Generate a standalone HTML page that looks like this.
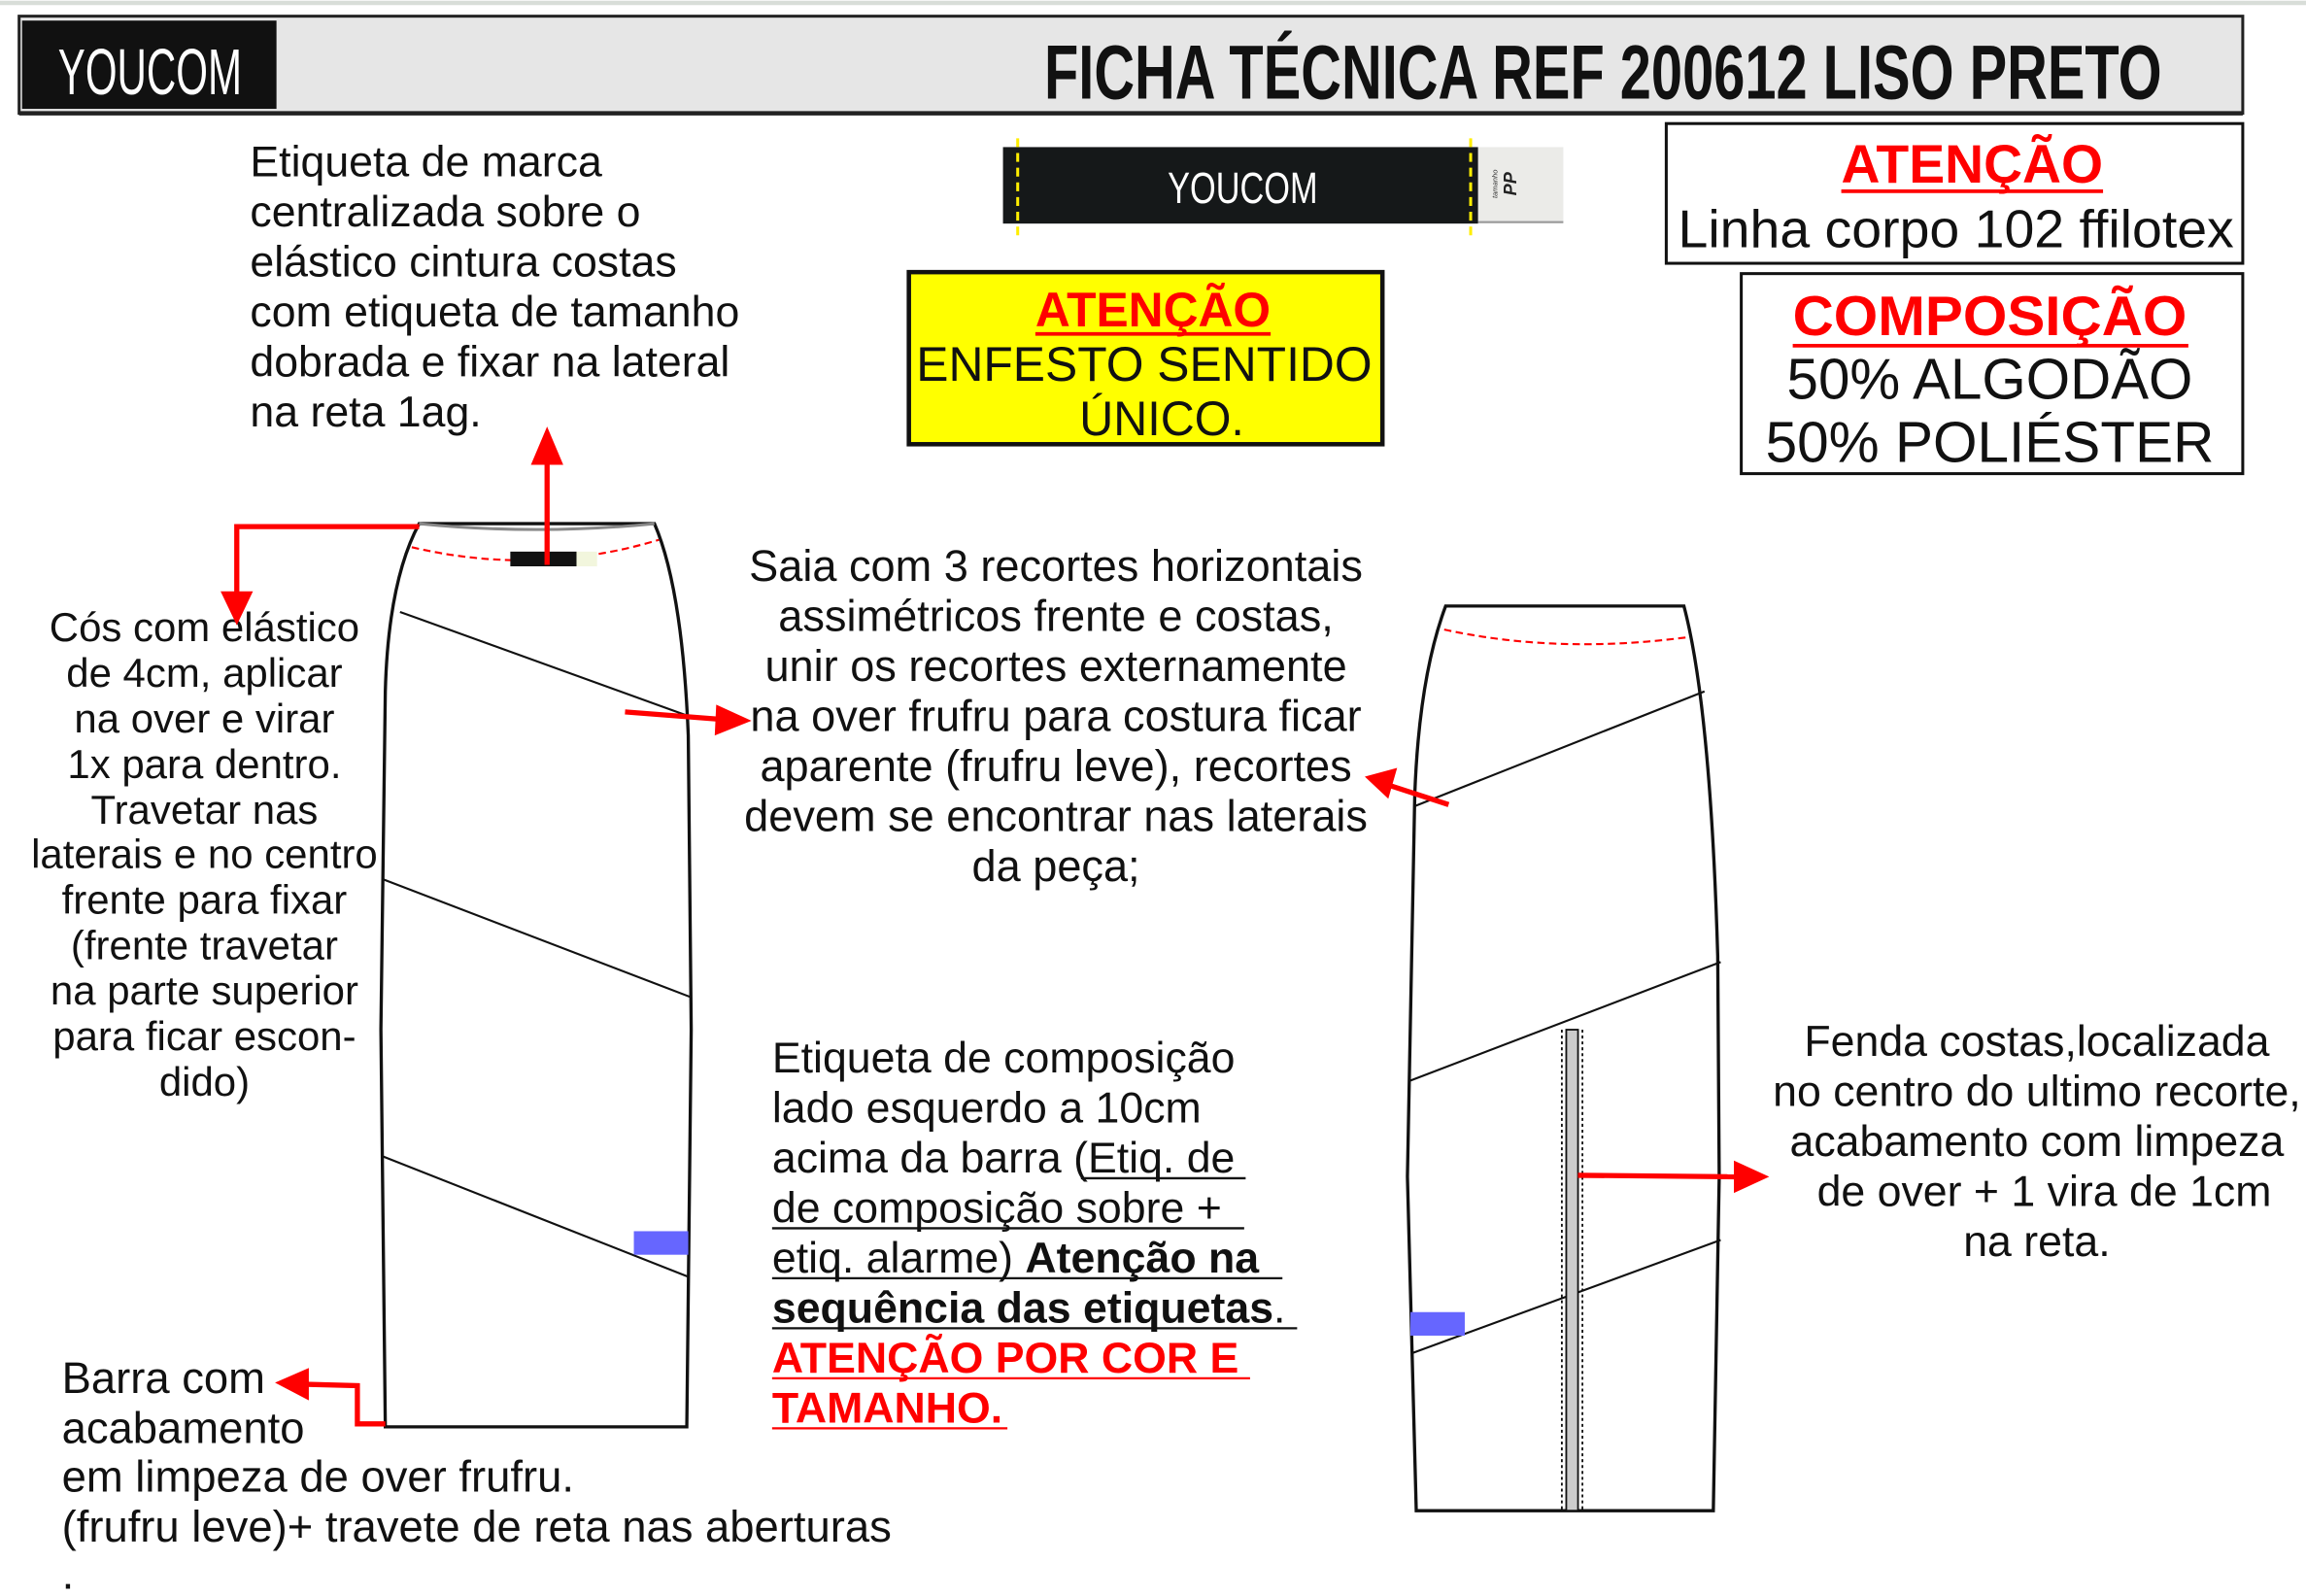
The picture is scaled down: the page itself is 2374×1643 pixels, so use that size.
<!DOCTYPE html>
<html><head><meta charset="utf-8"><style>
html,body{margin:0;padding:0;background:#fff;}
svg{display:block;}
text{font-family:"Liberation Sans",Arial,sans-serif;}
</style></head><body>
<svg width="2374" height="1643" viewBox="0 0 1568 1085" preserveAspectRatio="none" xmlns="http://www.w3.org/2000/svg">
<rect x="0" y="0" width="1568" height="1085" fill="#fff"/>
<line x1="0" y1="2" x2="1568" y2="2" stroke="#d8ddd8" stroke-width="3"/>
<!-- header -->
<rect x="13" y="11" width="1512" height="66" fill="#e6e6e6" stroke="#222" stroke-width="2"/>
<line x1="13" y1="77" x2="1525" y2="77" stroke="#222" stroke-width="3"/>
<rect x="15" y="14" width="173" height="60" fill="#111"/>
<text x="102" y="64" fill="#fff" font-size="44" text-anchor="middle" textLength="125" lengthAdjust="spacingAndGlyphs">YOUCOM</text>
<text x="710" y="67" fill="#111" font-size="52" font-weight="bold" textLength="760" lengthAdjust="spacingAndGlyphs">FICHA TÉCNICA REF 200612 LISO PRETO</text>
<!-- label image -->
<rect x="1005" y="100" width="58" height="50" fill="#ebebe8"/>
<line x1="1005" y1="151" x2="1063" y2="151" stroke="#999" stroke-width="1.5"/>
<rect x="682" y="100" width="323" height="52" fill="#151819"/>
<line x1="692" y1="94" x2="692" y2="160" stroke="#ffee00" stroke-width="2" stroke-dasharray="6,4"/>
<line x1="1000" y1="94" x2="1000" y2="160" stroke="#ffee00" stroke-width="2" stroke-dasharray="6,4"/>
<text x="845" y="138" fill="#fff" font-size="30" text-anchor="middle" textLength="102" lengthAdjust="spacingAndGlyphs">YOUCOM</text>
<text transform="translate(1031,125) rotate(-90)" font-size="12" font-weight="bold" font-style="italic" text-anchor="middle" fill="#222">PP</text>
<text transform="translate(1018,125) rotate(-90)" font-size="5" font-style="italic" text-anchor="middle" fill="#333">tamanho</text>
<!-- atencao box -->
<rect x="1133" y="84" width="392" height="95" fill="#fff" stroke="#111" stroke-width="2"/>
<text x="1341" y="124" fill="#f00" font-size="37" font-weight="bold" text-anchor="middle" textLength="178" lengthAdjust="spacingAndGlyphs">ATENÇÃO</text>
<line x1="1252" y1="130" x2="1430" y2="130" stroke="#f00" stroke-width="2.5"/>
<text x="1330" y="168" fill="#111" font-size="36" text-anchor="middle" textLength="378" lengthAdjust="spacingAndGlyphs">Linha corpo 102 ffilotex</text>
<!-- composicao box -->
<rect x="1184" y="186" width="341" height="136" fill="#fff" stroke="#111" stroke-width="2"/>
<text x="1353" y="228" fill="#f00" font-size="38" font-weight="bold" text-anchor="middle" textLength="268" lengthAdjust="spacingAndGlyphs">COMPOSIÇÃO</text>
<line x1="1219" y1="235" x2="1488" y2="235" stroke="#f00" stroke-width="2.5"/>
<text x="1353" y="271" fill="#111" font-size="39" text-anchor="middle" textLength="276" lengthAdjust="spacingAndGlyphs">50% ALGODÃO</text>
<text x="1353" y="314" fill="#111" font-size="39" text-anchor="middle" textLength="305" lengthAdjust="spacingAndGlyphs">50% POLIÉSTER</text>
<!-- yellow box -->
<rect x="618" y="185" width="322" height="117" fill="#ffff00" stroke="#111" stroke-width="3"/>
<text x="784" y="222" fill="#f00" font-size="33" font-weight="bold" text-anchor="middle" textLength="160" lengthAdjust="spacingAndGlyphs">ATENÇÃO</text>
<line x1="704" y1="227" x2="864" y2="227" stroke="#f00" stroke-width="2.5"/>
<text x="778" y="259" fill="#111" font-size="33" text-anchor="middle" textLength="310" lengthAdjust="spacingAndGlyphs">ENFESTO SENTIDO</text>
<text x="790" y="296" fill="#111" font-size="33" text-anchor="middle" textLength="112" lengthAdjust="spacingAndGlyphs">ÚNICO.</text>
<!-- top-left text -->
<g font-size="29.5" fill="#111">
<text x="170" y="120">Etiqueta de marca</text>
<text x="170" y="154">centralizada sobre o</text>
<text x="170" y="188">elástico cintura costas</text>
<text x="170" y="222">com etiqueta de tamanho</text>
<text x="170" y="256">dobrada e fixar na lateral</text>
<text x="170" y="290">na reta 1ag.</text>
</g>
<!-- left text -->
<g font-size="27.7" fill="#111" text-anchor="middle">
<text x="139" y="436">Cós com elástico</text>
<text x="139" y="467">de 4cm, aplicar</text>
<text x="139" y="498">na over e virar</text>
<text x="139" y="529">1x para dentro.</text>
<text x="139" y="560">Travetar nas</text>
<text x="139" y="590">laterais e no centro</text>
<text x="139" y="621">frente para fixar</text>
<text x="139" y="652">(frente travetar</text>
<text x="139" y="683">na parte superior</text>
<text x="139" y="714">para ficar escon-</text>
<text x="139" y="745">dido)</text>
</g>
<!-- front skirt -->
<path d="M285,356 Q264,395 262,470 L259,700 L262,970 L467,970 L470,700 L468,500 Q464,400 445,356 Z" fill="#fff" stroke="#111" stroke-width="2.2"/>
<path d="M285,356 Q365,364 445,356" fill="none" stroke="#888" stroke-width="2"/>
<path d="M280,372 Q365,392 448,367" fill="none" stroke="#f00" stroke-width="1.4" stroke-dasharray="5,3"/>
<rect x="347" y="375" width="45" height="10" fill="#111"/>
<rect x="392" y="375" width="14" height="10" fill="#f2f6dd"/>
<g fill="none" stroke="#111" stroke-width="1.4">
<path d="M272,416 L466,486"/>
<path d="M261,598 L470,678"/>
<path d="M260,786 L468,868"/>
</g>
<rect x="431" y="837" width="37" height="16" fill="#6666ff"/>
<!-- back skirt -->
<path d="M983,412 Q965,460 962,540 L957,800 L963,1027 L1165,1027 L1169,800 L1168,650 Q1163,480 1145,412 Z" fill="#fff" stroke="#111" stroke-width="2.2"/>
<path d="M982,428 Q1060,445 1149,433" fill="none" stroke="#f00" stroke-width="1.4" stroke-dasharray="5,3"/>
<g fill="none" stroke="#111" stroke-width="1.4">
<path d="M962,548 L1159,470"/>
<path d="M958,735 L1170,654"/>
<path d="M960,920 L1170,843"/>
</g>
<rect x="1065" y="700" width="8" height="327" fill="#ccc" stroke="#111" stroke-width="1.2"/>
<line x1="1062" y1="700" x2="1062" y2="1027" stroke="#111" stroke-width="1.2" stroke-dasharray="2,2"/>
<line x1="1076" y1="700" x2="1076" y2="1027" stroke="#111" stroke-width="1.2" stroke-dasharray="2,2"/>
<rect x="959" y="892" width="37" height="16" fill="#6666ff"/>
<!-- red arrows -->
<g stroke="#f00" stroke-width="3.5" fill="none">
<line x1="372" y1="384" x2="372" y2="312"/>
<polyline points="285,358 161,358 161,405"/>
<line x1="425" y1="484" x2="490" y2="489"/>
<polyline points="262,968 243,968 243,942 205,941"/>
<line x1="985" y1="547" x2="945" y2="534"/>
<line x1="1073" y1="799" x2="1180" y2="800"/>
</g>
<g fill="#f00">
<polygon points="372,290 361,316 383,316"/>
<polygon points="161,425 150,402 172,402"/>
<polygon points="511,490 487,479 486,500"/>
<polygon points="187,940 210,930 210,952"/>
<polygon points="928,528 950,522 944,543"/>
<polygon points="1203,800 1179,789 1179,811"/>
</g>
<!-- center text -->
<g font-size="29.8" fill="#111" text-anchor="middle">
<text x="718" y="395">Saia com 3 recortes horizontais</text>
<text x="718" y="429">assimétricos frente e costas,</text>
<text x="718" y="463">unir os recortes externamente</text>
<text x="718" y="497">na over frufru para costura ficar</text>
<text x="718" y="531">aparente (frufru leve), recortes</text>
<text x="718" y="565">devem se encontrar nas laterais</text>
<text x="718" y="599">da peça;</text>
</g>
<!-- composition text -->
<g font-size="29.5" fill="#111">
<text x="525" y="729">Etiqueta de composição</text>
<text x="525" y="763">lado esquerdo a 10cm</text>
<text x="525" y="797">acima da barra (Etiq. de</text>
<text x="525" y="831">de composição sobre + </text>
<text x="525" y="865">etiq. alarme) <tspan font-weight="bold">Atenção na </tspan></text>
<text x="525" y="899"><tspan font-weight="bold">sequência das etiquetas</tspan>.</text>
<text x="525" y="933" fill="#f00" font-weight="bold">ATENÇÃO POR COR E</text>
<text x="525" y="967" fill="#f00" font-weight="bold">TAMANHO.</text>
</g>
<line x1="735" y1="801" x2="847" y2="801" stroke="#111" stroke-width="1.5"/>
<line x1="525" y1="835" x2="846" y2="835" stroke="#111" stroke-width="1.5"/>
<line x1="525" y1="869" x2="872" y2="869" stroke="#111" stroke-width="1.5"/>
<line x1="525" y1="903" x2="882" y2="903" stroke="#111" stroke-width="1.5"/>
<line x1="525" y1="937" x2="850" y2="937" stroke="#f00" stroke-width="1.5"/>
<line x1="525" y1="971" x2="685" y2="971" stroke="#f00" stroke-width="1.5"/>
<!-- right text -->
<g font-size="29.5" fill="#111" text-anchor="middle">
<text x="1385" y="718">Fenda costas,localizada</text>
<text x="1385" y="752">no centro do ultimo recorte,</text>
<text x="1385" y="786">acabamento com limpeza</text>
<text x="1390" y="820">de over + 1 vira de 1cm</text>
<text x="1385" y="854">na reta.</text>
</g>
<!-- bottom left text -->
<g font-size="30" fill="#111">
<text x="42" y="947">Barra com</text>
<text x="42" y="981">acabamento</text>
<text x="42" y="1014">em limpeza de over frufru.</text>
<text x="42" y="1048">(frufru leve)+ travete de reta nas aberturas</text>
<text x="42" y="1080">.</text>
</g>
</svg>
</body></html>
